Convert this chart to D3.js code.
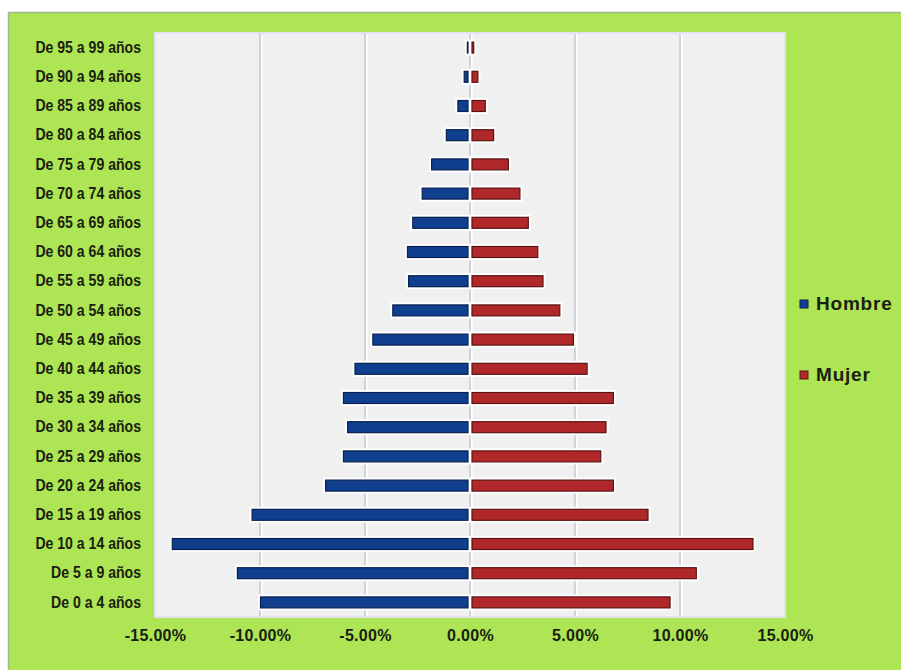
<!DOCTYPE html>
<html>
<head>
<meta charset="utf-8">
<script src="https://cdn.jsdelivr.net/npm/d3@7"></script>
<style>
  html, body { margin: 0; padding: 0; background: #ffffff; }
  svg { display: block; }
</style>
</head>
<body>
<svg id="chart" width="901" height="670"></svg>
<script>
// Age groups, youngest first
const ageGroups = [
  "De 0 a 4 años", "De 5 a 9 años", "De 10 a 14 años", "De 15 a 19 años",
  "De 20 a 24 años", "De 25 a 29 años", "De 30 a 34 años", "De 35 a 39 años",
  "De 40 a 44 años", "De 45 a 49 años", "De 50 a 54 años", "De 55 a 59 años",
  "De 60 a 64 años", "De 65 a 69 años", "De 70 a 74 años", "De 75 a 79 años",
  "De 80 a 84 años", "De 85 a 89 años", "De 90 a 94 años", "De 95 a 99 años"
];
// Share of population (%) per age group
const hombre = [10.0, 11.1, 14.2, 10.4, 6.9, 6.05, 5.85, 6.05, 5.5, 4.65,
                3.7, 2.95, 3.0, 2.75, 2.3, 1.85, 1.15, 0.6, 0.3, 0.15];
const mujer  = [9.55, 10.8, 13.5, 8.5, 6.85, 6.25, 6.5, 6.85, 5.6, 4.95,
                4.3, 3.5, 3.25, 2.8, 2.4, 1.85, 1.15, 0.75, 0.4, 0.2];
const xTicks = [-15, -10, -5, 0, 5, 10, 15];
const seriesNames = ["Hombre", "Mujer"];
const seriesColors = ["#0f3f8e", "#b0282a"];
const seriesStrokes = ["#08204f", "#5c1212"];

const svg = d3.select("#chart");

// green frame
svg.append("rect")
  .attr("x", 8.5).attr("y", 12.5).attr("width", 900).attr("height", 665)
  .attr("fill", "#ade554").attr("stroke", "#9fb88a").attr("stroke-width", 1.5);

const plot = { left: 155, right: 785, top: 33, bottom: 617 };

const x = d3.scaleLinear().domain([-15, 15]).range([plot.left, plot.right]);
const y = d3.scaleBand()
  .domain(ageGroups.slice().reverse())
  .range([plot.top, plot.bottom])
  .paddingInner(0.59).paddingOuter(0.295);

// plot area
svg.append("rect")
  .attr("x", plot.left).attr("y", plot.top)
  .attr("width", plot.right - plot.left).attr("height", plot.bottom - plot.top)
  .attr("fill", "#f0f0f1").attr("stroke", "#dfe3ee").attr("stroke-width", 2);

// gridlines: grey line with a white highlight
const grid = svg.append("g");
xTicks.slice(1, -1).forEach(t => {
  grid.append("line")
    .attr("x1", x(t) + 1.5).attr("x2", x(t) + 1.5)
    .attr("y1", plot.top + 1).attr("y2", plot.bottom - 1)
    .attr("stroke", "#ffffff").attr("stroke-width", 2);
  grid.append("line")
    .attr("x1", x(t)).attr("x2", x(t))
    .attr("y1", plot.top + 1).attr("y2", plot.bottom - 1)
    .attr("stroke", "#c3c8d4").attr("stroke-width", 1.5);
});

// bars
const rows = ageGroups.map((g, i) => ({ g, h: hombre[i], m: mujer[i] }));
const bars = svg.append("g");
const bh = y.bandwidth();

function drawBar(x0, x1, yy, si) {
  bars.append("rect")
    .attr("x", x0 - 2).attr("y", yy - 2)
    .attr("width", x1 - x0 + 4).attr("height", bh + 4)
    .attr("fill", "#ffffff");
  bars.append("rect")
    .attr("x", x0 + 0.5).attr("y", yy + 0.5)
    .attr("width", Math.max(0.5, x1 - x0 - 1)).attr("height", bh - 1)
    .attr("fill", seriesColors[si]).attr("stroke", seriesStrokes[si]).attr("stroke-width", 1.2);
}
rows.forEach(r => {
  const yy = y(r.g);
  drawBar(x(-r.h), x(0) - 1.5, yy, 0);
  drawBar(x(0) + 1.5, x(r.m), yy, 1);
});

// category labels (condensed bold)
const yAxis = svg.append("g")
  .attr("transform", `translate(${plot.left - 14},0)`)
  .call(d3.axisLeft(y).tickSize(0).tickPadding(0));
yAxis.select(".domain").remove();
yAxis.selectAll("text")
  .attr("fill", "#1a2110")
  .attr("transform", "scale(0.88,1)")
  .style("font-family", "'Liberation Sans', Arial, sans-serif")
  .style("font-weight", "bold")
  .style("font-size", "16px");

// value axis
const xAxis = svg.append("g")
  .attr("transform", `translate(0,${plot.bottom})`)
  .call(d3.axisBottom(x).tickValues(xTicks).tickSize(0).tickPadding(13)
    .tickFormat(d => d.toFixed(2) + "%"));
xAxis.select(".domain").remove();
xAxis.selectAll("text")
  .attr("fill", "#1a2110")
  .style("font-family", "'Liberation Sans', Arial, sans-serif")
  .style("font-weight", "bold")
  .style("font-size", "16px")
  .style("letter-spacing", "0.3px");

// legend
const legend = svg.append("g");
seriesNames.forEach((name, i) => {
  const ly = 304 + i * 71;
  legend.append("rect")
    .attr("x", 800).attr("y", ly - 4).attr("width", 8).attr("height", 8)
    .attr("fill", seriesColors[i]).attr("stroke", seriesStrokes[i]).attr("stroke-width", 1);
  legend.append("text")
    .attr("x", 816).attr("y", ly + 6)
    .attr("fill", "#1a2110")
    .style("font-family", "'Liberation Sans', Arial, sans-serif")
    .style("font-weight", "bold")
    .style("font-size", "19px")
    .style("letter-spacing", "0.8px")
    .text(name);
});
</script>
</body>
</html>
